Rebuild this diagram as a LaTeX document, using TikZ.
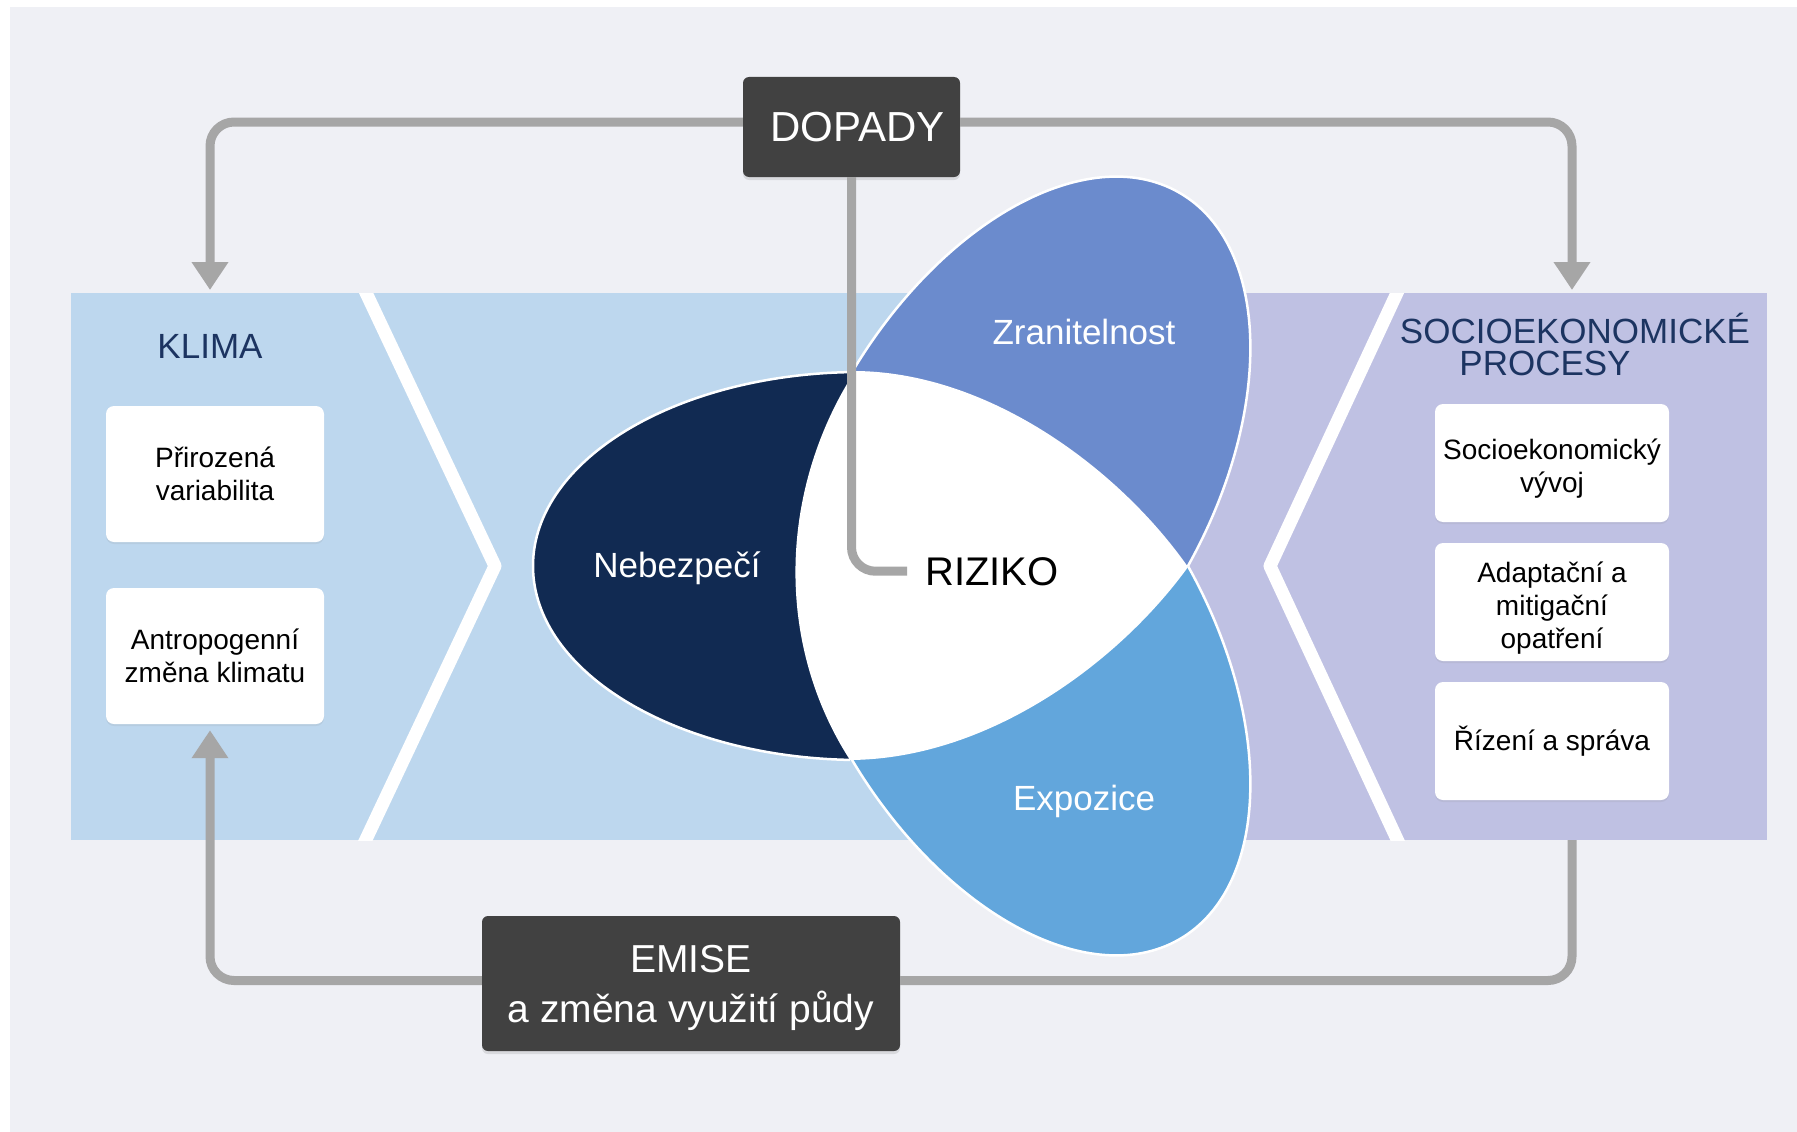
\documentclass[tikz,border=0pt]{standalone}
\usepackage{fontspec}
\setmainfont{Liberation Sans}
\usepackage{xcolor}
\usetikzlibrary{positioning}
\usetikzlibrary{arrows.meta}
\usetikzlibrary{shadows}
\definecolor{pozadi}{HTML}{EFF0F5}
\definecolor{pasmo}{HTML}{BDD7EE}
\definecolor{levandule}{HTML}{BFC1E3}
\definecolor{namornicka}{HTML}{1C3461}
\definecolor{nebezpeci}{HTML}{112A52}
\definecolor{zranitelnost}{HTML}{6B8BCD}
\definecolor{expozice}{HTML}{62A6DC}
\definecolor{tmava}{HTML}{414141}
\definecolor{sipka}{HTML}{A6A6A6}

\begin{document}
\begin{tikzpicture}[x=1pt,y=-1pt,
  box/.style={rectangle,rounded corners=8pt,fill=white,align=center,
    font=\fontsize{28}{33}\selectfont,
    drop shadow={shadow xshift=0pt,shadow yshift=-2pt,opacity=0.12}},
  darkbox/.style={rectangle,rounded corners=6pt,fill=tmava,text=white,align=center,
    drop shadow={shadow xshift=0pt,shadow yshift=-3pt,opacity=0.2}},
  title/.style={text=namornicka,font=\fontsize{35}{32}\selectfont,anchor=base},
  petal/.style={text=white,font=\fontsize{35}{40}\selectfont,anchor=base},
  list/.style={draw=white,line width=2.5pt},
  conn/.style={draw=sipka,line width=9pt,rounded corners=24pt},
  chevron/.style={draw=white,line width=13pt,line join=round}]

% pozadi
\fill[white] (0,0) rectangle (1797,1132);
\useasboundingbox (0,0) rectangle (1797,1132);
\fill[pozadi] (10,7) rectangle (1797,1132);

% pasmo
\fill[pasmo] (71,293) rectangle (1188,840);
\fill[levandule] (1188,293) rectangle (1767,840);
\begin{scope}
  \clip (71,293) rectangle (1767,840);
  \draw[chevron] (360,280) -- (495,566) -- (360,852);
  \draw[chevron] (1403,280) -- (1270,566) -- (1403,852);
\end{scope}

% okvetni listky
\coordinate (nebC) at (860.5,566);
\coordinate (zraC) at (1015.75,476.4);
\coordinate (expC) at (1015.75,655.6);
\begin{scope}
  \clip (858.5,100) -- (845.6,1100) -- (0,1100) -- (0,100) -- cycle;
  \filldraw[list,fill=nebezpeci] (nebC) ellipse [x radius=327.5pt,y radius=194pt];
\end{scope}
\begin{scope}
  \clip (500,162) -- (1797,925.5) -- (1797,0) -- (500,0) -- cycle;
  \filldraw[list,fill=zranitelnost,rotate around={60:(zraC)}] (zraC) ellipse [x radius=327.5pt,y radius=194pt];
\end{scope}
\begin{scope}
  \clip (500,960) -- (1797,219.3) -- (1797,1132) -- (500,1132) -- cycle;
  \filldraw[list,fill=expozice,rotate around={-60:(expC)}] (expC) ellipse [x radius=327.5pt,y radius=194pt];
\end{scope}
\fill[white] (855,371) .. controls (990,372) and (1120,470) .. (1188,567)
  .. controls (1120,661) and (990,759) .. (850,760)
  .. controls (774,642) and (779,489) .. cycle;

\node[petal] (nebL) at (677,577) {Nebezpečí};
\node[petal] (zraL) at (1084,344) {Zranitelnost};
\node[petal] (expL) at (1084,810) {Expozice};
\node[font=\fontsize{40}{44}\selectfont,anchor=base,inner xsep=18pt] (riziko) at (992,585) {RIZIKO};

% klima
\node[title] (klima) at (210,358) {KLIMA};
\node[box,minimum width=218pt,minimum height=136pt] (prirozena) at (215,474) {Přirozená\\variabilita};
\node[box,minimum width=218pt,minimum height=136pt] (antropo) at (215,656) {Antropogenní\\změna klimatu};

% socioekonomicke procesy
\node[title] (socA) at (1575,343) {SOCIOEKONOMICKÉ};
\node[title] (socB) at (1545,375) {PROCESY};
\node[box,minimum width=234pt,minimum height=118pt] (vyvoj) at (1552,463) {\rule{0pt}{32pt}Socioekonomický\\vývoj};
\node[box,minimum width=234pt,minimum height=118pt] (adaptace) at (1552,602) {\rule{0pt}{32pt}Adaptační a\\mitigační\\opatření};
\node[box,minimum width=234pt,minimum height=118pt] (rizeni) at (1552,741) {Řízení a správa};

% dopady a emise
\node[darkbox,minimum width=217pt,minimum height=100pt,font=\fontsize{42}{46}\selectfont] (dopady) at (851.5,127) {\hspace*{12pt}DOPADY};
\node[darkbox,minimum width=418pt,minimum height=135pt,font=\fontsize{39}{50}\selectfont] (emise) at (691,983.5) {\rule{0pt}{36pt}EMISE\\a změna využití půdy};

\coordinate (klimaTop) at (210,290);
\coordinate (socTop) at (1572,290);
\coordinate (socBot) at (1572,840);

% spojnice
\draw[conn,-{Triangle[width=35pt,length=28pt]}] ([yshift=5pt]dopady.west) -| (klimaTop);
\draw[conn,-{Triangle[width=35pt,length=28pt]}] ([yshift=5pt]dopady.east) -| (socTop);
\draw[conn] (dopady.south) |- (riziko.west);
\draw[conn] (socBot) |- ([yshift=3pt]emise.east);
\draw[conn,-{Triangle[width=35pt,length=28pt]}] ([yshift=3pt]emise.west) -| ([xshift=-5pt,yshift=-6pt]antropo.south);

\end{tikzpicture}
\end{document}
